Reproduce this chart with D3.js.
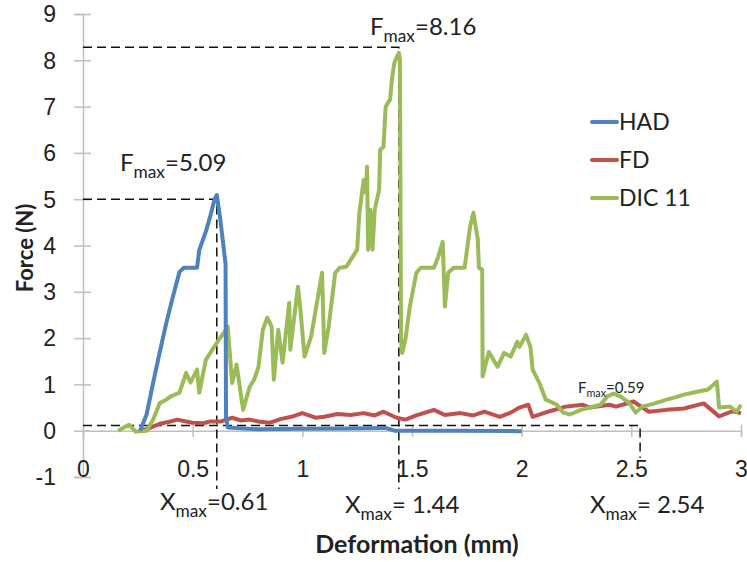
<!DOCTYPE html>
<html>
<head>
<meta charset="utf-8">
<script src="https://cdn.jsdelivr.net/npm/d3@7"></script>
<style>
  body { margin: 0; background: #fff; }
  svg { font-family: Lato, "Open Sans", sans-serif; }
</style>
</head>
<body>
<svg width="747" height="562"></svg>
<script>

// series: [deformation (mm), force (N)]
var hadData = [[0.26,0],[0.29,0.35],[0.32,1.04],[0.35,1.7],[0.38,2.33],[0.41,2.9],[0.44,3.43],[0.46,3.52],[0.52,3.52],[0.53,3.9],
  [0.56,4.3],[0.58,4.63],[0.6,5.0],[0.61,5.09],[0.625,4.6],[0.645,3.8],[0.65,3.6],[0.652,0.3],[0.66,0.07],[0.8,0.03],
  [1.0,0.04],[1.2,0.05],[1.38,0.06],[1.42,0.0],[1.7,0.0],[2.0,-0.01]];

var fdData = [[0.26,0],[0.3,0.05],[0.35,0.15],[0.4,0.2],[0.43,0.24],[0.47,0.2],[0.5,0.17],[0.55,0.16],[0.58,0.2],[0.63,0.2],
  [0.68,0.28],[0.72,0.22],[0.76,0.24],[0.8,0.2],[0.85,0.17],[0.9,0.25],[0.95,0.3],[1.0,0.38],[1.06,0.28],[1.1,0.3],
  [1.16,0.36],[1.22,0.34],[1.28,0.38],[1.33,0.33],[1.37,0.41],[1.43,0.28],[1.47,0.24],[1.52,0.33],[1.6,0.45],[1.65,0.34],
  [1.72,0.38],[1.78,0.33],[1.83,0.41],[1.9,0.3],[1.95,0.39],[1.99,0.5],[2.03,0.56],[2.05,0.3],[2.12,0.41],[2.2,0.52],
  [2.28,0.56],[2.31,0.5],[2.4,0.56],[2.43,0.52],[2.51,0.63],[2.58,0.41],[2.66,0.45],[2.74,0.48],[2.83,0.59],[2.9,0.31],
  [2.96,0.42],[3.0,0.38]];

var dicData = [[0.16,0],[0.21,0.13],[0.24,-0.02],[0.29,0],[0.32,0.24],[0.35,0.6],[0.38,0.67],[0.4,0.74],[0.44,0.82],[0.47,1.25],
  [0.49,1.04],[0.52,1.32],[0.53,0.82],[0.56,1.53],[0.59,1.75],[0.62,1.97],[0.64,2.1],[0.66,2.25],[0.68,1.03],[0.7,1.43],
  [0.73,0.45],[0.76,0.95],[0.78,1.1],[0.8,1.38],[0.82,2.18],[0.84,2.44],[0.86,2.25],[0.87,1.1],[0.89,2.18],[0.91,1.47],
  [0.94,2.76],[0.945,1.75],[0.98,3.11],[0.99,2.68],[1.01,1.6],[1.04,2.03],[1.09,3.41],[1.1,1.68],[1.12,2.25],[1.15,3.41],
  [1.17,3.52],[1.2,3.54],[1.23,3.76],[1.25,3.91],[1.26,4.71],[1.28,5.42],[1.29,5.14],[1.295,5.7],[1.3,3.91],[1.31,4.77],
  [1.32,3.91],[1.33,4.77],[1.35,5.2],[1.355,6.07],[1.37,6.13],[1.38,7.0],[1.4,7.15],[1.41,7.65],[1.42,7.95],[1.44,8.16],
  [1.445,8.0],[1.45,1.97],[1.455,1.68],[1.47,1.97],[1.49,2.68],[1.52,3.41],[1.54,3.52],[1.6,3.52],[1.62,3.76],[1.64,4.08],
  [1.65,2.68],[1.665,3.41],[1.69,3.52],[1.74,3.52],[1.765,4.41],[1.78,4.71],[1.8,4.13],[1.805,3.52],[1.82,3.48],[1.822,1.17],
  [1.85,1.7],[1.89,1.38],[1.92,1.68],[1.95,1.6],[1.98,1.92],[1.99,1.81],[2.02,2.07],[2.04,1.81],[2.05,1.32],[2.08,1.04],
  [2.11,0.67],[2.13,0.63],[2.16,0.56],[2.19,0.39],[2.22,0.35],[2.27,0.45],[2.31,0.5],[2.36,0.56],[2.39,0.74],[2.42,0.8],
  [2.45,0.74],[2.49,0.6],[2.52,0.39],[2.55,0.52],[2.6,0.58],[2.66,0.67],[2.7,0.72],[2.74,0.78],[2.8,0.84],[2.85,0.89],
  [2.89,1.06],[2.9,0.5],[2.95,0.52],[2.98,0.41],[3.0,0.56]];

var seriesNames = ["HAD", "FD", "DIC 11"];
var seriesColors = ["#4f81bd", "#c0504d", "#9bbb59"];

var yTicks = [-1, 0, 1, 2, 3, 4, 5, 6, 7, 8, 9];
var xTicks = [0, 0.5, 1, 1.5, 2, 2.5, 3];

// max markers: x, F (guide level), label text
var fmaxLabels = ["5.09", "8.16", "0.59"];
var xmaxLabels = ["=0.61", "= 1.44", "= 2.54"];
var markerX = [0.61, 1.44, 2.54];
var markerF = [5.0, 8.28, 0.11];

var svg = d3.select("svg");

var x = d3.scaleLinear().domain([0, 3]).range([83, 741]);
var y = d3.scaleLinear().domain([-1, 9]).range([477, 14]);

// plain hyphen for negatives, like the original
var fmt = function(d) { return String(d); };

// y axis
var yAxis = svg.append("g")
    .attr("transform", "translate(" + x(0) + ",0)")
    .call(d3.axisLeft(y).tickValues(yTicks).tickSize(9).tickPadding(28).tickFormat(fmt));
yAxis.select(".domain").attr("stroke", "#bfbfbf").attr("stroke-width", 1.5);
yAxis.selectAll(".tick line").attr("x1", 8).attr("stroke", "#bfbfbf").attr("stroke-width", 1.5);
yAxis.selectAll(".tick text").attr("font-size", 23).attr("fill", "#222").attr("dy", "0.34em").attr("x", -27);

// x axis, sitting at F = 0
var xAxis = svg.append("g")
    .attr("transform", "translate(0," + y(0) + ")")
    .call(d3.axisBottom(x).tickValues(xTicks).tickSize(6).tickFormat(fmt));
xAxis.select(".domain").attr("stroke", "#bfbfbf").attr("stroke-width", 1.5);
xAxis.selectAll(".tick line").attr("y1", -6).attr("stroke", "#bfbfbf").attr("stroke-width", 1.5);
xAxis.selectAll(".tick text").attr("font-size", 23).attr("fill", "#222").attr("y", 46).attr("dy", 0);

// dashed guides
var guides = svg.append("g").attr("stroke", "#111").attr("stroke-width", 1.5)
    .attr("stroke-dasharray", "9,5").attr("fill", "none");
var guideBottom = [489, 489, 458];
markerX.forEach(function(mx, i) {
  guides.append("path")
      .attr("d", "M" + x(0) + "," + y(markerF[i]) + "H" + x(mx) + "V" + guideBottom[i]);
});

// series lines
var line = d3.line().x(function(d) { return x(d[0]); }).y(function(d) { return y(d[1]); });
var allSeries = [hadData, fdData, dicData];
var drawOrder = [1, 2, 0];
drawOrder.forEach(function(i) {
  svg.append("path")
      .datum(allSeries[i])
      .attr("d", line)
      .attr("fill", "none")
      .attr("stroke", seriesColors[i])
      .attr("stroke-width", 4)
      .attr("stroke-linejoin", "round");
});

// annotations
function maxLabel(px, py, letter, rest, size) {
  var t = svg.append("text").attr("x", px).attr("y", py).attr("font-size", size).attr("fill", "#222");
  t.append("tspan").text(letter);
  t.append("tspan").attr("font-size", size * 0.72).attr("dy", size * 0.28).text("max");
  t.append("tspan").attr("dy", -size * 0.28).text(rest);
}
maxLabel(120, 171, "F", "=" + fmaxLabels[0], 24);
maxLabel(370, 35, "F", "=" + fmaxLabels[1], 24);
maxLabel(578, 393, "F", "=" + fmaxLabels[2], 15);
maxLabel(160, 510, "X", xmaxLabels[0], 24);
maxLabel(345, 513, "X", xmaxLabels[1], 24);
maxLabel(590, 513, "X", xmaxLabels[2], 24);

// axis titles
svg.append("text")
    .attr("transform", "translate(33,248) rotate(-90)")
    .attr("text-anchor", "middle")
    .attr("font-size", 22).attr("font-weight", "bold").attr("fill", "#222")
    .text("Force (N)");
svg.append("text")
    .attr("x", 417).attr("y", 553)
    .attr("text-anchor", "middle")
    .attr("font-size", 25).attr("font-weight", "bold").attr("fill", "#222")
    .text("Deformation (mm)");

// legend
var legend = svg.append("g").selectAll("g")
    .data(seriesNames)
    .enter().append("g")
    .attr("transform", function(d, i) { return "translate(592," + (122 + i * 38) + ")"; });
legend.append("line")
    .attr("x1", 0).attr("x2", 25)
    .attr("stroke", function(d, i) { return seriesColors[i]; })
    .attr("stroke-width", 4).attr("stroke-linecap", "round");
legend.append("text")
    .attr("x", 27).attr("dy", "0.35em")
    .attr("font-size", 23).attr("fill", "#222")
    .text(function(d) { return d; });

</script>
</body>
</html>
